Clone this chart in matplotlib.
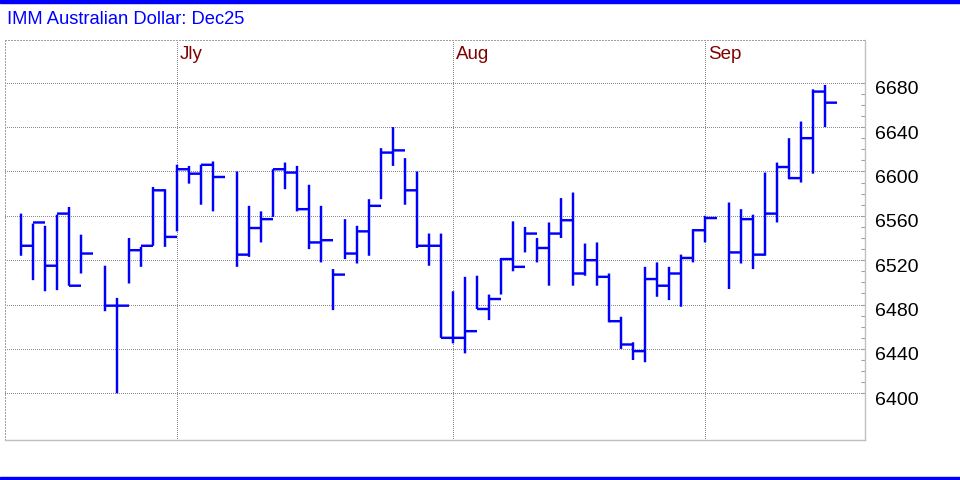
import matplotlib
matplotlib.use('Agg')
import matplotlib.pyplot as plt
from matplotlib.patches import Rectangle
import numpy as np
import pandas as pd

plt.rcParams['font.family'] = ['Liberation Sans', 'DejaVu Sans']

title = 'IMM Australian Dollar: Dec25'

# trading days (weekday axis, holidays left blank)
first_day = '2025-06-12'
last_day = '2025-09-15'
missing_days = ['2025-06-20', '2025-07-07', '2025-09-02']
month_starts = ['2025-07-01', '2025-08-01', '2025-09-01']
month_names = ['Jly', 'Aug', 'Sep']

highs = [6562, 6553, 6551, 6561, 6568, 6543,
         6515, 6486, 6540, 6532, 6586, 6584, 6606, 6605, 6606, 6609,
         6600, 6569, 6564, 6602, 6608, 6605, 6588, 6569, 6512, 6557,
         6551, 6575, 6621, 6640, 6612, 6600, 6544, 6544, 6492, 6505,
         6506, 6489, 6522, 6555, 6550, 6540, 6554, 6576, 6581, 6535,
         6536, 6508, 6469, 6446, 6514, 6518, 6514, 6525, 6548, 6560,
         6572, 6566, 6561, 6599, 6608, 6630, 6645, 6674, 6678]
lows = [6524, 6502, 6492, 6493, 6497, 6508,
        6474, 6400, 6499, 6514, 6533, 6532, 6546, 6589, 6570, 6564,
        6514, 6523, 6536, 6559, 6584, 6564, 6530, 6518, 6475, 6521,
        6517, 6524, 6575, 6605, 6570, 6531, 6515, 6450, 6445, 6436,
        6476, 6466, 6489, 6510, 6527, 6518, 6497, 6540, 6497, 6506,
        6497, 6464, 6440, 6430, 6428, 6487, 6484, 6478, 6518, 6536,
        6494, 6517, 6512, 6524, 6554, 6593, 6590, 6598, 6640]
closes = [6533, 6554, 6515, 6562, 6497, 6526,
          6479, 6479, 6529, 6533, 6583, 6541, 6602, 6598, 6606, 6595,
          6525, 6549, 6557, 6602, 6599, 6566, 6536, 6538, 6507, 6526,
          6546, 6569, 6617, 6619, 6583, 6533, 6533, 6450, 6450, 6456,
          6476, 6485, 6521, 6514, 6544, 6531, 6544, 6556, 6508, 6520,
          6505, 6465, 6444, 6438, 6503, 6497, 6508, 6522, 6547, 6558,
          6527, 6557, 6525, 6562, 6604, 6594, 6630, 6672, 6662]

price_ticks = list(range(6400, 6681, 40))
minor_ticks = list(range(6400, 6681, 10))

days = pd.bdate_range(first_day, last_day).drop(pd.to_datetime(missing_days))
x = np.busday_count(first_day, days.values.astype('datetime64[D]'))
month_x = np.busday_count(first_day, month_starts)

blue = '#0000ff'
grid_kw = dict(color='#8c8c8c', lw=0.72, ls=(0, (1, 2)), zorder=1, antialiased=False)
bar_kw = dict(color=blue, lw=1.75, zorder=3, snap=False)

fig = plt.figure(figsize=(9.6, 4.8), dpi=100)
ax = fig.add_axes([5/960, 40/480, 860/960, 400/480])

for p in price_ticks:
    ax.axhline(p, **grid_kw)
for mx, name in zip(month_x, month_names):
    ax.axvline(mx, **grid_kw)
    ax.annotate(name, xy=(mx, 1), xycoords=('data', 'axes fraction'),
                xytext=(3, -15), textcoords='offset pixels',
                ha='left', va='center', color='#800000', fontsize=13.5)

ax.vlines(x, lows, highs, **bar_kw)
ax.hlines(closes, x, x + 1, **bar_kw)

ax.set_xlim(-4/3, 70 + 1/3)
ax.set_ylim(6357.9, 6718.5)

ax.set_xticks([])
ax.yaxis.tick_right()
ax.set_yticks(minor_ticks)
ax.set_yticklabels([])
ax.tick_params(axis='y', direction='in', length=3, color='#a0a0a0', width=0.8)

for p in price_ticks:
    ax.annotate(str(p), xy=(1, p), xycoords=('axes fraction', 'data'),
                xytext=(10, -7), textcoords='offset pixels',
                ha='left', va='center', fontsize=14)

for side in ['top', 'left']:
    ax.spines[side].set_color('#a0a0a0')
    ax.spines[side].set_linestyle((0, (1, 2)))
    ax.spines[side].set_linewidth(0.72)
for side in ['right', 'bottom']:
    ax.spines[side].set_color('#c0c0c0')
    ax.spines[side].set_linewidth(1)

fig.text(7/960, 1 - 20/480, title, color=blue, fontsize=13.2, va='center', ha='left')
fig.patches.append(Rectangle((0, 1 - 3/480), 1, 3/480, transform=fig.transFigure,
                             color=blue, zorder=5))
fig.patches.append(Rectangle((0, 0), 1, 3/480, transform=fig.transFigure,
                             color=blue, zorder=5))

fig.savefig('out.png', dpi=100)
